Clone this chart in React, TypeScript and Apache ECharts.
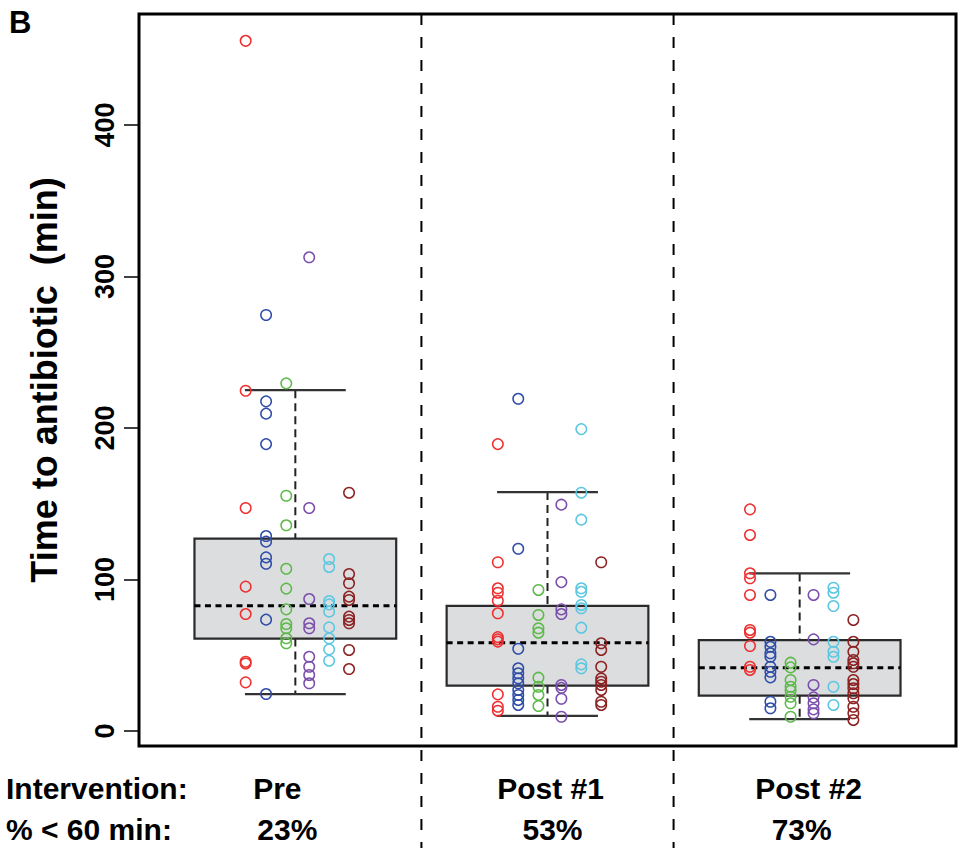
import React, { useEffect, useRef } from "react";
import * as echarts from "echarts";

// ---------- data ----------
const groups = ["Pre", "Post #1", "Post #2"];
const pctUnder60 = ["23%", "53%", "73%"];
const rowLabels = ["Intervention:", "% < 60 min:"];
const yTicks = [0, 100, 200, 300, 400];

// box statistics per group
const boxQ1 = [61, 30, 23.3];
const boxMedian = [82.7, 58.2, 41.7];
const boxQ3 = [127, 82.6, 60];
const whiskerLow = [24.4, 10, 7.9];
const whiskerHigh = [225, 157.7, 104];

// individual times (min), per colour group, per intervention period
const redVals = [
  [455.6, 224.6, 147.2, 95.3, 77.2, 45.7, 44.6, 32.1],
  [189.4, 111.4, 94.2, 91.3, 86, 77.7, 62, 60.5, 59, 24.2, 16, 13.4],
  [146.3, 129.4, 104.1, 100.8, 89.8, 66.7, 64.9, 56.1, 42.4, 40.3],
];
const blueVals = [
  [274.6, 217.6, 209.5, 189.4, 128.7, 125, 114.6, 110.4, 73.5, 24.4],
  [219.3, 120.3, 54.3, 41.4, 38.1, 34.8, 31.5, 27.1, 23.8, 20.5, 17.2],
  [89.8, 58.9, 55.6, 51.3, 49, 42.4, 39.1, 35.4, 19.3, 15],
];
const greenVals = [
  [229.5, 155.3, 135.8, 107.1, 94, 80.3, 70.6, 67.8, 61.2, 57.9],
  [93.1, 76.6, 67.8, 64.9, 35.2, 29.2, 23.8, 16.5],
  [45.1, 42, 33.7, 29.2, 26.6, 22.6, 18.3, 9.4],
];
const purpleVals = [
  [312.7, 147.2, 87.1, 71.1, 67.8, 49, 42.4, 37, 31.5],
  [149.4, 98.3, 80.3, 77.2, 30.4, 28.5, 21.3, 9.4],
  [89.8, 60.5, 30.4, 22.2, 18.3, 14.3, 11.7],
];
const cyanVals = [
  [113.5, 108.3, 85.8, 83.6, 78.8, 68.4, 61.2, 53.9, 46.4],
  [199.3, 157.3, 139.5, 94.2, 91.9, 83.2, 81, 68.2, 44, 41.4],
  [94.6, 91.3, 82.5, 58.9, 52.3, 49, 29.2, 17.2],
];
const darkredVals = [
  [157.3, 103.6, 97.5, 88.7, 86.5, 75.5, 73.3, 71.1, 53.5, 40.9],
  [111.4, 57.9, 53.5, 42.4, 34.7, 32.5, 30.4, 27.1, 19.3, 17.2],
  [73.3, 58.9, 52.3, 46.9, 44.7, 42.4, 33.7, 31, 28.2, 24.9, 21.6, 16, 11.7, 7.3],
];

// ---------- styling ----------
const FONT = "'Liberation Sans', Arial, Helvetica, sans-serif";
const colorGroups = [
  { vals: redVals, color: "#EE3030", offset: -0.197 },
  { vals: blueVals, color: "#2E4DA8", offset: -0.116 },
  { vals: greenVals, color: "#5DBA48", offset: -0.036 },
  { vals: purpleVals, color: "#7A4EAB", offset: 0.055 },
  { vals: cyanVals, color: "#5CC7E0", offset: 0.134 },
  { vals: darkredVals, color: "#8C2222", offset: 0.213 },
];

export default function App() {
  const ref = useRef<HTMLDivElement>(null);

  useEffect(() => {
    if (!ref.current) return;
    const chart = echarts.init(ref.current, undefined, { renderer: "svg" });

    const boxData = groups.map((_, i) => [
      i + 1,
      boxQ1[i],
      boxMedian[i],
      boxQ3[i],
      whiskerLow[i],
      whiskerHigh[i],
    ]);

    const scatterSeries = colorGroups.map((g) => ({
      type: "scatter",
      z: 5,
      symbol: "circle",
      symbolSize: 10.5,
      itemStyle: { color: "rgba(0,0,0,0)", borderColor: g.color, borderWidth: 1.5, opacity: 1 },
      data: g.vals.flatMap((arr, gi) => arr.map((v) => [gi + 1 + g.offset, v])),
      silent: true,
    }));

    chart.setOption({
      animation: false,
      grid: {
        left: 139,
        top: 14,
        width: 817,
        height: 732,
        show: true,
        borderColor: "#000",
        borderWidth: 3,
        backgroundColor: "transparent",
        z: 10,
      },
      xAxis: {
        type: "value",
        min: 0.38,
        max: 3.62,
        show: false,
        splitLine: { show: false },
      },
      yAxis: {
        type: "value",
        min: -9.9,
        max: 473.3,
        name: "Time to antibiotic  (min)",
        nameLocation: "middle",
        nameGap: 77,
        nameTextStyle: { fontFamily: FONT, fontWeight: "bold", fontSize: 36, color: "#000" },
        axisLine: { show: false },
        splitLine: { show: false },
        axisTick: {
          show: true,
          length: 15,
          customValues: yTicks,
          lineStyle: { color: "#000", width: 1.5 },
        },
        axisLabel: {
          customValues: yTicks,
          rotate: 90,
          margin: 21,
          fontFamily: FONT,
          fontWeight: "bold",
          fontSize: 27,
          color: "#000",
        },
      },
      series: [
        {
          type: "custom",
          z: 2,
          silent: true,
          data: boxData,
          renderItem: (params: any, api: any) => {
            const i = api.value(0);
            const q1 = api.value(1);
            const med = api.value(2);
            const q3 = api.value(3);
            const lo = api.value(4);
            const hi = api.value(5);
            const [xl, yq3] = api.coord([i - 0.4, q3]);
            const [xr, yq1] = api.coord([i + 0.4, q1]);
            const [xc, ym] = api.coord([i, med]);
            const yLo = api.coord([i, lo])[1];
            const yHi = api.coord([i, hi])[1];
            const xcl = api.coord([i - 0.2, lo])[0];
            const xcr = api.coord([i + 0.2, lo])[0];
            const dashW = { stroke: "#222", lineWidth: 2, lineDash: [8, 5], fill: null };
            const solid = { stroke: "#333", lineWidth: 2.2, fill: null };
            return {
              type: "group",
              children: [
                { type: "line", shape: { x1: xc, y1: yHi, x2: xc, y2: yq3 }, style: dashW },
                { type: "line", shape: { x1: xc, y1: yq1, x2: xc, y2: yLo }, style: dashW },
                { type: "line", shape: { x1: xcl, y1: yHi, x2: xcr, y2: yHi }, style: solid },
                { type: "line", shape: { x1: xcl, y1: yLo, x2: xcr, y2: yLo }, style: solid },
                {
                  type: "rect",
                  shape: { x: xl, y: yq3, width: xr - xl, height: yq1 - yq3 },
                  style: { fill: "#DCDDDF", stroke: "#2a2a2a", lineWidth: 2.2 },
                },
                {
                  type: "line",
                  shape: { x1: xl, y1: ym, x2: xr, y2: ym },
                  style: { stroke: "#000", lineWidth: 3, lineDash: [6, 4.5], fill: null },
                },
              ],
            };
          },
        },
        ...scatterSeries,
      ],
    });

    // separators and bottom labels placed from the x scale
    const px = (v: number) => chart.convertToPixel({ xAxisIndex: 0 }, v) as number;
    const sepXs = [px(1.5), px(2.5)];
    const labelShift = [-18, 3, 9];
    const pctShift = [-8, 5, 2];
    const txt = (text: string, x: number, y: number, align: string) => ({
      type: "text",
      x,
      y,
      style: {
        text,
        fontFamily: FONT,
        fontWeight: "bold",
        fontSize: 30,
        lineHeight: 30,
        fill: "#000",
        align,
        verticalAlign: "middle",
      },
    });
    chart.setOption({
      graphic: [
        ...sepXs.map((x) => ({
          type: "line",
          shape: { x1: x, y1: 14, x2: x, y2: 848 },
          style: { stroke: "#000", lineWidth: 2, lineDash: [11, 12] },
          z: 20,
        })),
        {
          type: "text",
          x: 9,
          y: 22,
          style: { text: "B", fontFamily: FONT, fontWeight: "bold", fontSize: 31, fill: "#000", verticalAlign: "middle" },
        },
        txt(rowLabels[0], 6, 788, "left"),
        txt(rowLabels[1], 6, 829, "left"),
        ...groups.map((g, i) => txt(g, px(i + 1) + labelShift[i], 788, "center")),
        ...pctUnder60.map((p, i) => txt(p, px(i + 1) + pctShift[i], 829, "center")),
      ],
    });

    return () => chart.dispose();
  }, []);

  return (
    <div
      ref={ref}
      style={{ position: "fixed", left: 0, top: 0, width: 961, height: 848, background: "#fff" }}
    />
  );
}
